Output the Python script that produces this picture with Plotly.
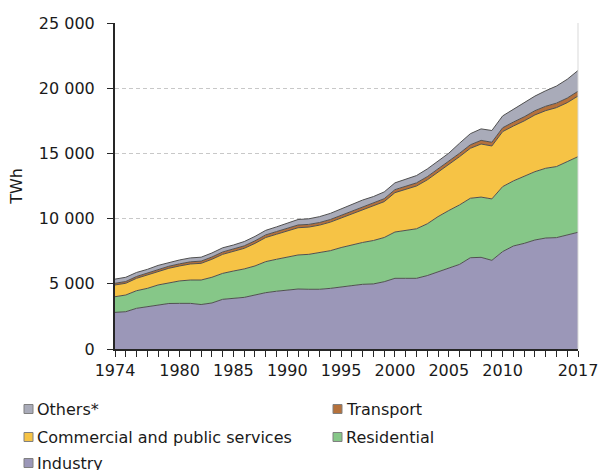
import plotly.graph_objects as go

years = [1974, 1975, 1976, 1977, 1978, 1979, 1980, 1981, 1982, 1983,
         1984, 1985, 1986, 1987, 1988, 1989, 1990, 1991, 1992, 1993,
         1994, 1995, 1996, 1997, 1998, 1999, 2000, 2001, 2002, 2003,
         2004, 2005, 2006, 2007, 2008, 2009, 2010, 2011, 2012, 2013,
         2014, 2015, 2016, 2017]

industry = [2810, 2860, 3120, 3230, 3360, 3490, 3500, 3500, 3410, 3530,
            3810, 3890, 3960, 4140, 4320, 4430, 4530, 4600, 4580, 4580,
            4650, 4780, 4860, 4960, 4990, 5160, 5420, 5420, 5420, 5630,
            5900, 6190, 6490, 7000, 7030, 6800, 7470, 7900, 8100, 8360,
            8510, 8540, 8720, 8950]
residential = [1200, 1280, 1350, 1420, 1550, 1600, 1720, 1790, 1880, 1970,
               1990, 2090, 2180, 2230, 2380, 2450, 2500, 2610, 2680, 2800,
               2890, 3000, 3130, 3210, 3330, 3390, 3550, 3655, 3800, 3970,
               4250, 4430, 4560, 4560, 4620, 4710, 4980, 4990, 5120, 5240,
               5350, 5450, 5650, 5800]
commercial = [900, 900, 950, 1010, 1050, 1100, 1150, 1230, 1280, 1380,
              1460, 1490, 1580, 1730, 1850, 1920, 2030, 2090, 2090, 2120,
              2190, 2260, 2410, 2530, 2650, 2750, 3020, 3175, 3280, 3370,
              3420, 3490, 3700, 3830, 4070, 4060, 4220, 4210, 4270, 4350,
              4420, 4520, 4520, 4650]
transport = [130, 135, 140, 145, 150, 155, 160, 165, 170, 175,
             180, 185, 190, 195, 200, 205, 210, 210, 205, 200,
             200, 205, 210, 215, 220, 225, 230, 235, 240, 245,
             250, 255, 260, 270, 280, 285, 295, 305, 315, 325,
             335, 345, 355, 365]
others = [320, 325, 310, 300, 300, 300, 300, 300, 300, 310,
          320, 320, 330, 340, 350, 360, 380, 420, 430, 450,
          470, 500, 510, 510, 500, 520, 520, 540, 560, 590,
          620, 650, 770, 850, 880, 900, 910, 970, 1030, 1120,
          1190, 1310, 1440, 1590]

series_names = ["Industry", "Residential", "Commercial and public services",
                "Transport", "Others*"]
series_values = [industry, residential, commercial, transport, others]
series_colors = ["#9b97b8", "#86c788", "#f6c345", "#b5713b", "#a9abb9"]

x_label_years = [1974, 1980, 1985, 1990, 1995, 2000, 2005, 2010, 2017]
y_tick_vals = [0, 5000, 10000, 15000, 20000, 25000]
y_tick_text = ["0", "5 000", "10 000", "15 000", "20 000", "25 000"]

# legend layout: rows (top to bottom), two columns
legend_rows = [["Others*", "Transport"],
               ["Commercial and public services", "Residential"],
               ["Industry"]]

FONT = "DejaVu Sans"
W, H = 601, 470
ML, MR, MT, MB = 115, 23, 23, 121
PW, PH = W - ML - MR, H - MT - MB

fig = go.Figure()
for name, vals, col in zip(series_names, series_values, series_colors):
    fig.add_trace(go.Scatter(
        x=years, y=vals, name=name, mode="lines", stackgroup="one",
        line=dict(color="#505050", width=1), fillcolor=col,
        showlegend=False, hoverinfo="x+y+name"))

def px_to_paper(px, py):
    return (px - ML) / PW, (MT + PH - py) / PH

shapes = []
annotations = []
# right plot border
shapes.append(dict(type="line", xref="paper", yref="paper", x0=1, x1=1,
                   y0=0, y1=1, line=dict(color="#d9d9d9", width=1)))

col_x = [24, 333]
row_y = [409, 437, 463]
color_of = dict(zip(series_names, series_colors))
for r, row in enumerate(legend_rows):
    for c, name in enumerate(row):
        x0, y0 = px_to_paper(col_x[c], row_y[r] - 4.5)
        x1, y1 = px_to_paper(col_x[c] + 9, row_y[r] + 4.5)
        shapes.append(dict(type="rect", xref="paper", yref="paper",
                           x0=x0, x1=x1, y0=y0, y1=y1,
                           fillcolor=color_of[name],
                           line=dict(color="#808080", width=1)))
        tx, ty = px_to_paper(col_x[c] + 11, row_y[r])
        annotations.append(dict(text=name, xref="paper", yref="paper",
                                x=tx, y=ty, xanchor="left", yanchor="middle",
                                showarrow=False,
                                font=dict(family=FONT, size=16, color="#1a1a1a")))

fig.update_layout(
    width=W, height=H,
    margin=dict(l=ML, r=MR, t=MT, b=MB, pad=0, autoexpand=False),
    paper_bgcolor="white", plot_bgcolor="white",
    font=dict(family=FONT, size=16, color="#1a1a1a"),
    showlegend=False,
    shapes=shapes, annotations=annotations,
    xaxis=dict(range=[1974, 2017], tickmode="array", tickvals=years,
               ticktext=[str(y) if y in x_label_years else "" for y in years],
               ticks="outside", ticklen=6, tickwidth=1, tickcolor="#262626",
               showline=True, linecolor="#262626", linewidth=2,
               showgrid=False, zeroline=False, ticklabelstandoff=0,
               automargin=False,
               tickfont=dict(family=FONT, size=16, color="#1a1a1a")),
    yaxis=dict(range=[0, 25000], tickmode="array", tickvals=y_tick_vals,
               ticktext=y_tick_text,
               ticks="outside", ticklen=6, tickwidth=1, tickcolor="#262626",
               showline=True, linecolor="#262626", linewidth=2,
               showgrid=True, gridcolor="#c8c8c8", gridwidth=1,
               griddash="4px,3px", zeroline=False, ticklabelstandoff=9,
               automargin=False,
               tickfont=dict(family=FONT, size=16, color="#1a1a1a"),
               title=dict(text="TWh", standoff=12,
                          font=dict(family=FONT, size=16, color="#1a1a1a"))),
)

fig.write_html("out.html",
               config={"displayModeBar": False},
               post_script="document.body.style.margin='0';"
                           "document.body.style.overflow='hidden';")
